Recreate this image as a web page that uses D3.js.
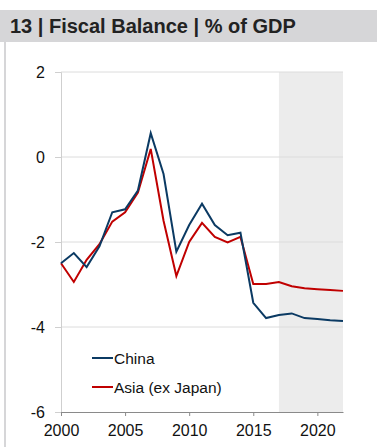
<!DOCTYPE html>
<html>
<head>
<meta charset="utf-8">
<script src="https://cdn.jsdelivr.net/npm/d3@7"></script>
<style>
body { margin: 0; background: #fff; }
text { font-family: "Liberation Sans", Arial, sans-serif; }
</style>
</head>
<body>
<svg id="chart"></svg>
<script>
const years = d3.range(2000, 2023);
const china = [-2.5, -2.26, -2.59, -2.1, -1.3, -1.23, -0.79, 0.56, -0.4, -2.23, -1.6, -1.1, -1.6, -1.84, -1.78, -3.43, -3.79, -3.72, -3.68, -3.79, -3.81, -3.84, -3.86];
const asia = [-2.5, -2.94, -2.42, -2.05, -1.52, -1.3, -0.84, 0.19, -1.5, -2.8, -2.0, -1.55, -1.88, -2.01, -1.88, -2.99, -2.99, -2.94, -3.04, -3.09, -3.11, -3.13, -3.15];
const yTicks = [2, 0, -2, -4, -6];
const xTicks = [2000, 2005, 2010, 2015, 2020];
const forecastStart = 2017;
const seriesNames = ["China", "Asia (ex Japan)"];
const seriesColors = ["#0b3a63", "#c00000"];

const canvasWidth = 377;
const canvasHeight = 447;
const svg = d3.select("#chart")
	.attr("width", canvasWidth)
	.attr("height", canvasHeight);

// title bar
svg.append("rect")
	.attr("x", 0).attr("y", 10)
	.attr("width", canvasWidth).attr("height", 32)
	.attr("fill", "#d6d6d8");
svg.append("text")
	.attr("x", 10).attr("y", 33)
	.attr("font-size", 20).attr("font-weight", "bold")
	.attr("fill", "#222")
	.text("13 | Fiscal Balance | % of GDP");
svg.append("line")
	.attr("x1", 5).attr("x2", 5)
	.attr("y1", 42).attr("y2", canvasHeight)
	.attr("stroke", "#d6d6d8").attr("stroke-width", 2);

let x = d3.scaleLinear().domain([2000, 2022]).range([61, 343]);
let y = d3.scaleLinear().domain([-6, 2]).range([412, 72]);

// forecast shading
svg.append("rect")
	.attr("x", x(forecastStart)).attr("y", y(2))
	.attr("width", x(2022) - x(forecastStart))
	.attr("height", y(-6) - y(2))
	.attr("fill", "#ececec");

// gridlines
svg.selectAll(".grid")
	.data(yTicks.filter((d) => d > -6)).enter()
	.append("line")
	.attr("class", "grid")
	.attr("x1", x(2000)).attr("x2", x(2022))
	.attr("y1", (d) => y(d)).attr("y2", (d) => y(d))
	.attr("stroke", "#dcdcdc").attr("stroke-width", 1);

// y axis
let y_axis = d3.axisLeft(y).tickValues(yTicks).tickSize(6).tickFormat((d) => d);
let gy = svg.append("g").attr("transform", `translate(${x(2000)},0)`).call(y_axis);
gy.select(".domain").attr("stroke", "#cfcfcf");
gy.selectAll(".tick line").attr("stroke", "#cfcfcf");
gy.selectAll(".tick text").attr("font-size", 16).attr("fill", "#111").attr("x", -16)
	.attr("font-family", "Liberation Sans, Arial, sans-serif");

// x axis
let x_axis = d3.axisBottom(x).tickValues(xTicks).tickSize(4).tickSizeOuter(0).tickFormat(d3.format("d"));
let gx = svg.append("g").attr("transform", `translate(0,${y(-6)})`).call(x_axis);
gx.select(".domain").attr("stroke", "#8a8a8a");
gx.selectAll(".tick line").attr("stroke", "#8a8a8a");
gx.selectAll(".tick text").attr("font-size", 16).attr("fill", "#111")
	.attr("y", 24).attr("dy", 0)
	.attr("font-family", "Liberation Sans, Arial, sans-serif");

// lines
let line = d3.line().x((d, i) => x(years[i])).y((d) => y(d));
[asia, china].forEach((s, k) => {
	svg.append("path")
		.datum(s)
		.attr("fill", "none")
		.attr("stroke", k === 0 ? seriesColors[1] : seriesColors[0])
		.attr("stroke-width", 2)
		.attr("stroke-linejoin", "miter")
		.attr("d", line);
});

// legend
let legend = svg.selectAll(".legend")
	.data(seriesNames).enter()
	.append("g")
	.attr("class", "legend")
	.attr("transform", (d, i) => `translate(92,${358 + i * 29})`);
legend.append("line")
	.attr("x1", 0).attr("x2", 21)
	.attr("stroke", (d, i) => seriesColors[i])
	.attr("stroke-width", 2);
legend.append("text")
	.attr("x", 22).attr("y", 5.5)
	.attr("font-size", 15.5).attr("fill", "#111")
	.text((d) => d);
</script>
</body>
</html>
